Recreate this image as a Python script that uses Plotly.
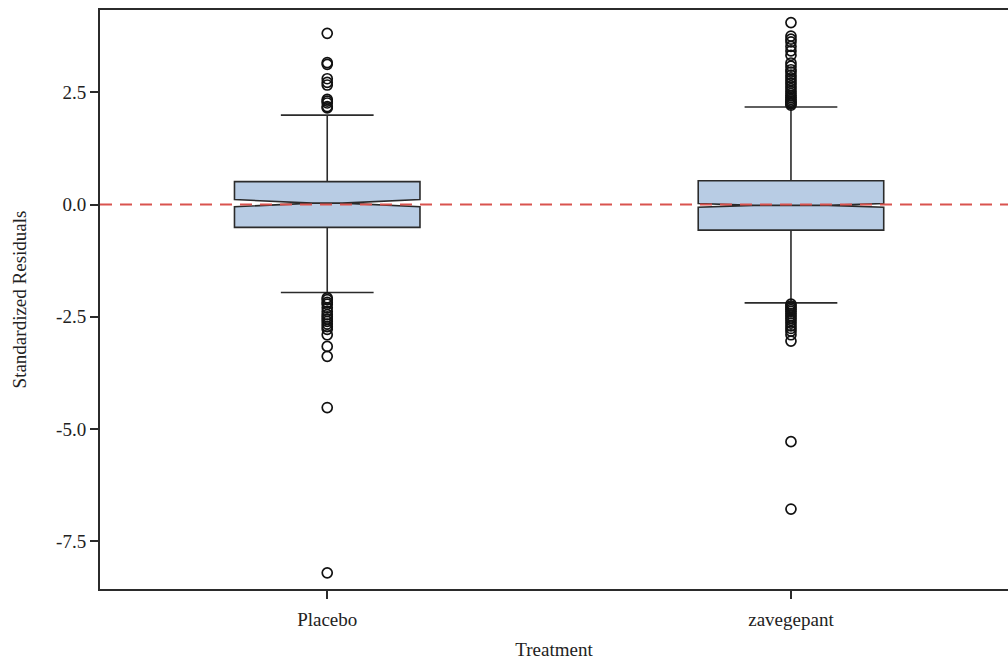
import plotly.graph_objects as go

# Treatment groups
groups = ["Placebo", "zavegepant"]

# Precomputed box statistics (standardized residuals)
q1 = [-0.51, -0.57]
median = [0.03, -0.02]
q3 = [0.51, 0.53]
lower_fence = [-1.96, -2.19]
upper_fence = [1.99, 2.17]
notch_span = [0.08, 0.04]
notch_width = [0.42, 0.30]

# Outlying residuals beyond the whiskers
placebo_outliers = [3.81, 3.16, 3.12, 2.80, 2.72, 2.66, 2.34, 2.30, 2.26, 2.18, 2.15,
                    -2.08, -2.12, -2.18, -2.22, -2.30, -2.38, -2.45, -2.50, -2.55,
                    -2.60, -2.66, -2.72, -2.78, -2.90, -3.16, -3.38, -4.52, -8.20]
zavegepant_outliers = [4.05, 3.75, 3.68, 3.62, 3.52, 3.42, 3.32, 3.15, 3.08, 3.00,
                       2.95, 2.88, 2.82, 2.76, 2.70, 2.64, 2.58, 2.52, 2.47, 2.42,
                       2.38, 2.34, 2.30, 2.27, 2.24, 2.21,
                       -2.22, -2.26, -2.30, -2.34, -2.38, -2.43, -2.48, -2.53,
                       -2.58, -2.64, -2.70, -2.76, -2.82, -2.90, -3.04, -5.28, -6.78]
outliers = [placebo_outliers, zavegepant_outliers]

y_ticks = [2.5, 0.0, -2.5, -5.0, -7.5]

FONT = "Liberation Serif"
FONT_SIZE = 19
TEXT = "#222222"
BOX_FILL = "#b8cce4"
EDGE = "#2b2b2b"

fig = go.Figure()

for i, g in enumerate(groups):
    fig.add_trace(go.Box(
        x=[g],
        q1=[q1[i]], median=[median[i]], q3=[q3[i]],
        lowerfence=[lower_fence[i]], upperfence=[upper_fence[i]],
        notchspan=[notch_span[i]],
        notched=True,
        notchwidth=notch_width[i],
        width=0.4,
        whiskerwidth=0.5,
        boxpoints=False,
        fillcolor=BOX_FILL,
        line=dict(color=EDGE, width=1.6),
        showlegend=False,
        hoverinfo="skip",
    ))

for i, g in enumerate(groups):
    fig.add_trace(go.Scatter(
        x=[g] * len(outliers[i]),
        y=outliers[i],
        mode="markers",
        marker=dict(symbol="circle-open", size=10, color="#111111",
                    line=dict(width=1.7, color="#111111")),
        showlegend=False,
        hoverinfo="skip",
    ))

# Zero reference line
fig.add_hline(y=0, line=dict(color="#d9534f", width=2, dash="12px,8px"),
              layer="above")

fig.update_layout(
    width=1008, height=664,
    margin=dict(l=100, r=0, t=10, b=75),
    paper_bgcolor="white",
    plot_bgcolor="white",
    boxmode="overlay",
    font=dict(family=FONT, size=FONT_SIZE, color=TEXT),
)

fig.update_xaxes(
    type="category",
    categoryorder="array", categoryarray=groups,
    range=[-0.49, 1.468],
    showgrid=False, zeroline=False,
    showline=True, linecolor=EDGE, linewidth=2, mirror=True,
    ticks="outside", ticklen=8, tickwidth=1.5, tickcolor=EDGE,
    ticklabelstandoff=4,
    tickfont=dict(family=FONT, size=FONT_SIZE, color=TEXT),
    title=dict(text="Treatment", font=dict(family=FONT, size=FONT_SIZE, color=TEXT),
               standoff=14),
)

fig.update_yaxes(
    range=[-8.56, 4.33],
    tickvals=y_ticks,
    ticktext=[f"{v:.1f}" for v in y_ticks],
    showgrid=False, zeroline=False,
    showline=True, linecolor=EDGE, linewidth=2,
    ticks="outside", ticklen=8, tickwidth=1.5, tickcolor=EDGE,
    tickfont=dict(family=FONT, size=FONT_SIZE, color=TEXT),
    title=dict(text="Standardized Residuals",
               font=dict(family=FONT, size=FONT_SIZE, color=TEXT), standoff=24),
)

fig.write_html("out.html")
